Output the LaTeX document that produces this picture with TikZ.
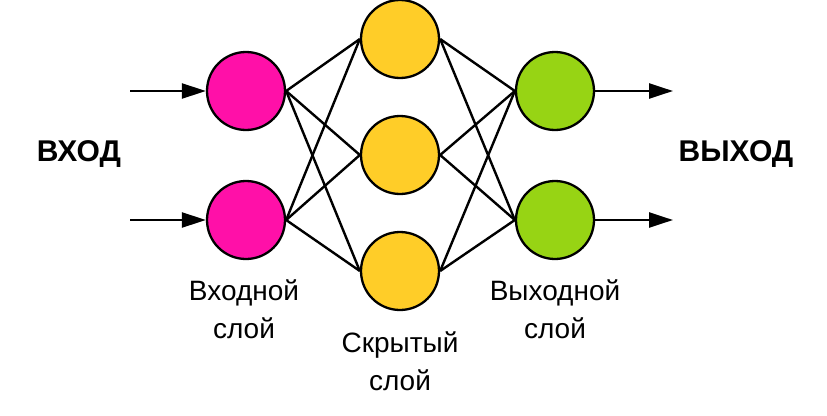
\documentclass[tikz,border=0pt]{standalone}
\usepackage{fontspec}
\setmainfont{Liberation Sans}
\usetikzlibrary{arrows.meta}
\definecolor{inpink}{HTML}{FF10A8}
\definecolor{hidyellow}{HTML}{FFCD28}
\definecolor{outgreen}{HTML}{97D414}
\tikzset{
  neuron/.style={circle, draw=black, line width=2.3pt, minimum size=78pt, inner sep=0pt},
  link/.style={draw=black, line width=2.4pt},
  flow/.style={draw=black, line width=2.4pt, -{Triangle[length=24pt,width=15pt]}},
  lbl/.style={font=\fontsize{28}{36}\selectfont, align=center, inner sep=0pt, anchor=base},
  big/.style={font=\fontsize{30}{34}\selectfont\bfseries, inner sep=0pt}
}
\begin{document}
\begin{tikzpicture}[x=1pt,y=-1pt]
\useasboundingbox (0,0) rectangle (827,415);
\node[neuron, fill=inpink] (i1) at (246,91) {};
\node[neuron, fill=inpink] (i2) at (246,220) {};
\node[neuron, fill=hidyellow] (h1) at (400,39) {};
\node[neuron, fill=hidyellow] (h2) at (400,155) {};
\node[neuron, fill=hidyellow] (h3) at (400,271) {};
\node[neuron, fill=outgreen] (o1) at (555,91) {};
\node[neuron, fill=outgreen] (o2) at (555,220) {};
\coordinate (a1) at (130,91);
\coordinate (a2) at (130,220);
\coordinate (b1) at (673,91);
\coordinate (b2) at (673,220);
\foreach \i in {i1,i2}{
  \foreach \h in {h1,h2,h3}{
    \draw[link] (\i.east) -- (\h.west);
  }
}
\foreach \h in {h1,h2,h3}{
  \foreach \o in {o1,o2}{
    \draw[link] (\h.east) -- (\o.west);
  }
}
\draw[flow] (a1) -- (i1.west);
\draw[flow] (a2) -- (i2.west);
\draw[flow] (o1.east) -- (b1);
\draw[flow] (o2.east) -- (b2);
\node[big] (vin) at (79,154) {ВХОД};
\node[big] (vout) at (736,154) {ВЫХОД};
\node[lbl] (l1) at (244,338) {Входной\\[2pt]слой};
\node[lbl] (l2) at (400,390) {Скрытый\\[2pt]слой};
\node[lbl] (l3) at (555,338) {Выходной\\[2pt]слой};
\end{tikzpicture}
\end{document}
